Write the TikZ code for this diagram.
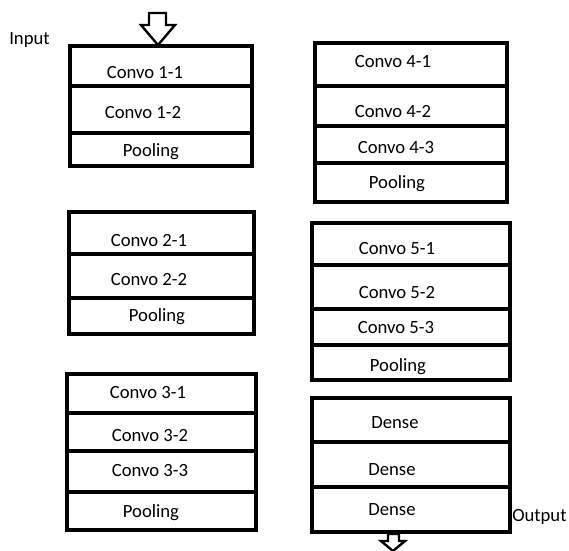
\documentclass[tikz,border=0pt]{standalone}
\usepackage{fontspec}
\setmainfont{Carlito}
\usetikzlibrary{fit}

% one layer cell: a drawn rectangle spanning two corners
\newcommand{\layercell}[5]{%
  \node[cell, fit={(#2,#3) (#4,#5)}] (#1) {};}

\begin{document}
\begin{tikzpicture}[x=0.75pt,y=-0.75pt,
  cell/.style={draw=black, line width=2.6pt, inner sep=0pt, outer sep=0pt},
  lbl/.style={font=\fontsize{14}{16}\selectfont, inner sep=0pt, anchor=center},
  flow/.style={draw=black, fill=white, line width=1.8pt, line join=miter}]

\useasboundingbox (0,0) rectangle (569,551);

% block 1
\layercell{c11}{70}{46}{252}{86}
\layercell{c12}{70}{86}{252}{133}
\layercell{p1}{70}{133}{252}{166}
\node[lbl] (t11) at (145,73) {Convo 1-1};
\node[lbl] (t12) at (143,113) {Convo 1-2};
\node[lbl] (tp1) at (151,152) {Pooling};

% block 2
\layercell{c21}{69}{212}{254}{254}
\layercell{c22}{69}{254}{254}{298}
\layercell{p2}{69}{298}{254}{334}
\node[lbl] (t21) at (149,241) {Convo 2-1};
\node[lbl] (t22) at (149,280) {Convo 2-2};
\node[lbl] (tp2) at (157,317) {Pooling};

% block 3
\layercell{c31}{67}{374}{256}{413}
\layercell{c32}{67}{413}{256}{451}
\layercell{c33}{67}{451}{256}{492}
\layercell{p3}{67}{492}{256}{530}
\node[lbl] (t31) at (148,393) {Convo 3-1};
\node[lbl] (t32) at (150,436) {Convo 3-2};
\node[lbl] (t33) at (150,470) {Convo 3-3};
\node[lbl] (tp3) at (151,513) {Pooling};

% block 4
\layercell{c41}{315}{43}{507}{86}
\layercell{c42}{315}{86}{507}{126}
\layercell{c43}{315}{126}{507}{163}
\layercell{p4}{315}{163}{507}{202}
\node[lbl] (t41) at (393,62) {Convo 4-1};
\node[lbl] (t42) at (393,112) {Convo 4-2};
\node[lbl] (t43) at (396,148) {Convo 4-3};
\node[lbl] (tp4) at (397,184) {Pooling};

% block 5
\layercell{c51}{312}{223}{510}{265}
\layercell{c52}{312}{265}{510}{309}
\layercell{c53}{312}{309}{510}{345}
\layercell{p5}{312}{345}{510}{380}
\node[lbl] (t51) at (397,249) {Convo 5-1};
\node[lbl] (t52) at (397,293) {Convo 5-2};
\node[lbl] (t53) at (396,328) {Convo 5-3};
\node[lbl] (tp5) at (398,367) {Pooling};

% dense block
\layercell{d1}{312}{398}{510}{442}
\layercell{d2}{312}{442}{510}{487}
\layercell{d3}{312}{487}{510}{532}
\node[lbl] (td1) at (395,423) {Dense};
\node[lbl] (td2) at (392,470) {Dense};
\node[lbl] (td3) at (392,510) {Dense};

% input / output captions
\node[lbl, anchor=west] (in) at (9,40) {Input};
\node[lbl, anchor=west] (out) at (512,517) {Output};

% hollow arrow into the first block
\draw[flow] (149,13) -- (166,13) -- (166,25) -- (175,25) -- (158,45)
  -- (141,25) -- (149,25) -- cycle;

% hollow arrow out of the dense block
\draw[flow] (388,534) -- (399,534) -- (399,541) -- (405,541) -- (393,551)
  -- (381,541) -- (388,541) -- cycle;

\end{tikzpicture}
\end{document}
